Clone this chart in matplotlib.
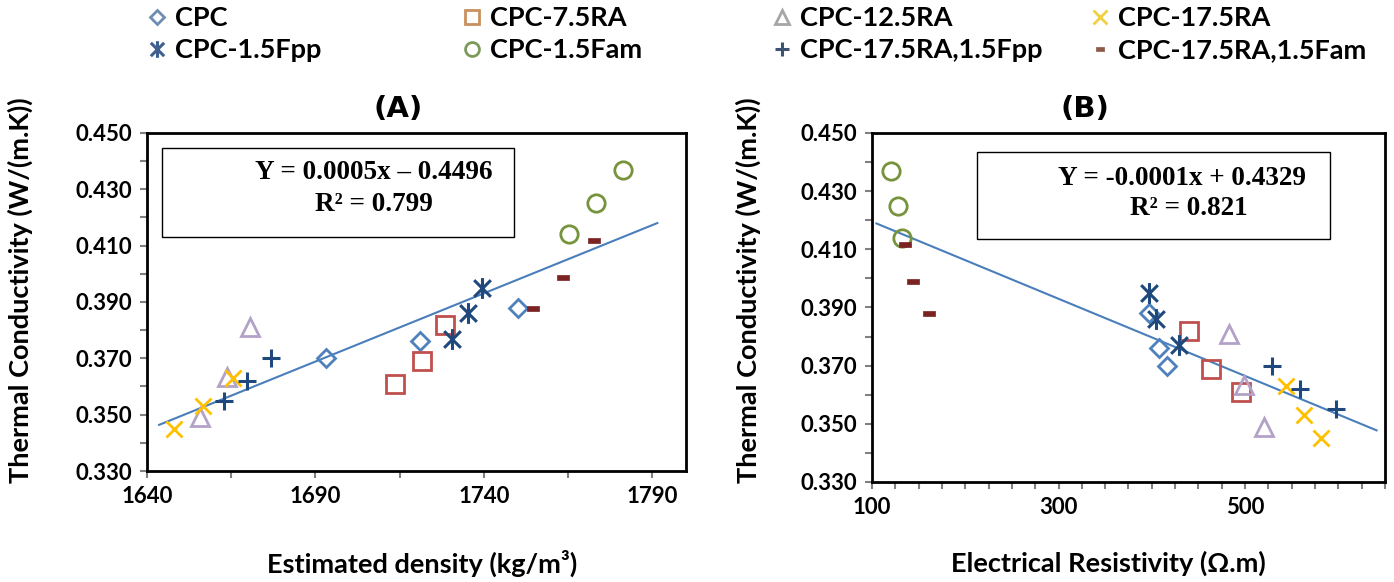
import numpy as np
import matplotlib
matplotlib.use("Agg")
import matplotlib.pyplot as plt
from matplotlib.lines import Line2D
from matplotlib.patches import Rectangle
from matplotlib.path import Path
from matplotlib.ticker import FixedLocator, FormatStrFormatter

plt.rcParams['font.family'] = ['Lato', 'DejaVu Sans']
plt.rcParams['font.weight'] = 'bold'

# --- data ---
series = ["CPC", "CPC-7.5RA", "CPC-12.5RA", "CPC-17.5RA",
          "CPC-1.5Fpp", "CPC-1.5Fam", "CPC-17.5RA,1.5Fpp", "CPC-17.5RA,1.5Fam"]

density = [
    [1693, 1721, 1750],
    [1713.5, 1721.6, 1728.4],
    [1655.8, 1663.7, 1670.6],
    [1647.9, 1656.6, 1665.5],
    [1730.5, 1735.4, 1739.5],
    [1765.3, 1773.3, 1781.3],
    [1662.8, 1669.6, 1676.7],
    [1754.6, 1763.5, 1772.7],
]

resistivity = [
    [416, 408, 397],
    [495.5, 463.7, 440],
    [520.3, 498.4, 482.7],
    [581.7, 563.5, 544.1],
    [429, 404.5, 397.2],
    [131.8, 128.1, 120.8],
    [597.1, 558.7, 528.4],
    [161, 144.2, 135.4],
]

conductivity = [
    [0.370, 0.376, 0.388],
    [0.361, 0.369, 0.382],
    [0.349, 0.3635, 0.381],
    [0.345, 0.353, 0.363],
    [0.377, 0.386, 0.395],
    [0.414, 0.425, 0.437],
    [0.355, 0.362, 0.370],
    [0.388, 0.399, 0.412],
]

eq_a = ["Y = 0.0005x \u2013 0.4496", "R\u00b2 = 0.799"]
eq_b = ["Y = -0.0001x + 0.4329", "R\u00b2 = 0.821"]

# trend line extents (as drawn in the original)
trend_a = (1643.6, 1791.5)
trend_b = (104.7, 641.0)

# --- styles ---
star = Path([(-0.8, -0.8), (0.8, 0.8), (-0.8, 0.8), (0.8, -0.8), (0, -1), (0, 1)],
            [Path.MOVETO, Path.LINETO] * 3)
dash = Path([(-1, -0.45), (1, -0.45), (1, 0.45), (-1, 0.45), (-1, -0.45)],
            [Path.MOVETO, Path.LINETO, Path.LINETO, Path.LINETO, Path.CLOSEPOLY])

styles = [
    dict(marker='D', ms=9.5, mfc='none', mec='#4F81BD', mew=2),
    dict(marker='s', ms=12.5, mfc='none', mec='#C0504D', mew=2),
    dict(marker='^', ms=12.5, mfc='none', mec='#B3A2C7', mew=2),
    dict(marker='x', ms=12, mec='#FFC000', mew=2),
    dict(marker=star, ms=15, mfc='none', mec='#1F497D', mew=2.2),
    dict(marker='o', ms=12.5, mfc='none', mec='#77933C', mew=2),
    dict(marker='+', ms=13, mec='#1F497D', mew=2.2),
    dict(marker=dash, ms=8, mfc='#7B2222', mec='#7B2222', mew=0.5),
]
legend_colors = ['#6F8DB2', '#C8905E', '#A6A6A6', '#F0D040',
                 '#3F5F8F', '#7C9A5C', '#3C5470', '#8C5A46']

W, H = 1394, 582
fig = plt.figure(figsize=(W / 100, H / 100), dpi=100)


def px_axes(l, t, r, b):
    return fig.add_axes([l / W, 1 - b / H, (r - l) / W, (b - t) / H])


axA = px_axes(147, 133, 686, 471)
axB = px_axes(872, 133, 1385, 482)


def style_axis(ax):
    for s in ax.spines.values():
        s.set_linewidth(2)
        s.set_color('black')
    ax.tick_params(which='both', direction='out', length=5, width=1.5,
                   color='#808080', labelsize=16, pad=6)
    ax.yaxis.set_major_locator(FixedLocator(np.arange(0.33, 0.4501, 0.02)))
    ax.yaxis.set_minor_locator(FixedLocator(np.arange(0.33, 0.4501, 0.01)))
    ax.yaxis.set_major_formatter(FormatStrFormatter('%.3f'))
    ax.set_ylim(0.33, 0.45)


for ax, xs in [(axA, density), (axB, resistivity)]:
    for i in range(len(series)):
        ax.plot(xs[i], conductivity[i], ls='none', zorder=3, **styles[i])
    allx = np.concatenate(xs)
    ally = np.concatenate(conductivity)
    k, c = np.polyfit(allx, ally, 1)
    ext = trend_a if ax is axA else trend_b
    lx = np.array(ext)
    ax.plot(lx, k * lx + c, color='#4A7EBB', lw=1.5, zorder=2)
    style_axis(ax)

axA.set_xlim(1640, 1800)
axA.xaxis.set_major_locator(FixedLocator([1640, 1690, 1740, 1790]))
axA.xaxis.set_minor_locator(FixedLocator(np.arange(1640, 1801, 25)))
axB.set_xlim(100, 650)
axB.xaxis.set_major_locator(FixedLocator([100, 300, 500]))
axB.xaxis.set_minor_locator(FixedLocator(np.arange(100, 651, 25)))

# equation boxes
for ax, box, lines, pos in [
    (axA, (0.027, 0.693, 0.68, 0.955), eq_a, [(0.421, 0.882), (0.421, 0.787)]),
    (axB, (0.204, 0.695, 0.893, 0.946), eq_b, [(0.605, 0.871), (0.618, 0.785)]),
]:
    ax.add_patch(Rectangle((box[0], box[1]), box[2] - box[0], box[3] - box[1],
                           transform=ax.transAxes, fill=True, fc='white',
                           ec='black', lw=1, zorder=4))
    for txt, (x, y) in zip(lines, pos):
        ax.text(x, y, txt, transform=ax.transAxes, ha='center', va='center',
                family='Liberation Serif', weight='bold', fontsize=19.5, zorder=5)

# titles and axis labels
for x, t in [(398, "(A)"), (1085, "(B)")]:
    fig.text(x / W, 1 - 109 / H, t, ha='center', va='center', fontsize=21,
             family='DejaVu Sans', weight='bold')
fig.text(422 / W, 1 - 563 / H, "Estimated density (kg/m\u00b3)", ha='center', va='center', fontsize=19.5)
fig.text(1108 / W, 1 - 563 / H, "Electrical Resistivity (\u03a9.m)", ha='center', va='center', fontsize=19.5)
for x in (20, 748):
    fig.text(x / W, 1 - 290 / H, "Thermal Conductivity (W/(m.K))", ha='center', va='center',
             rotation=90, fontsize=19.5)

# legend: 4 columns, 2 rows
col_x = [143, 458, 768, 1086]
for col in range(4):
    handles = []
    for idx in (col, col + 4):
        st = dict(styles[idx])
        st['ms'] = st['ms'] * 0.8
        st['mec'] = legend_colors[idx]
        if st.get('mfc', 'none') != 'none':
            st['mfc'] = legend_colors[idx]
        handles.append(Line2D([], [], ls='none', **st))
    fig.legend(handles, [series[col], series[col + 4]], loc='upper left',
               bbox_to_anchor=(col_x[col] / W, 1 - 6 / H), frameon=False,
               borderaxespad=0, borderpad=0, handlelength=1.0, handletextpad=0.17,
               labelspacing=0.3, fontsize=19.5)

fig.savefig("out.png", dpi=100)
